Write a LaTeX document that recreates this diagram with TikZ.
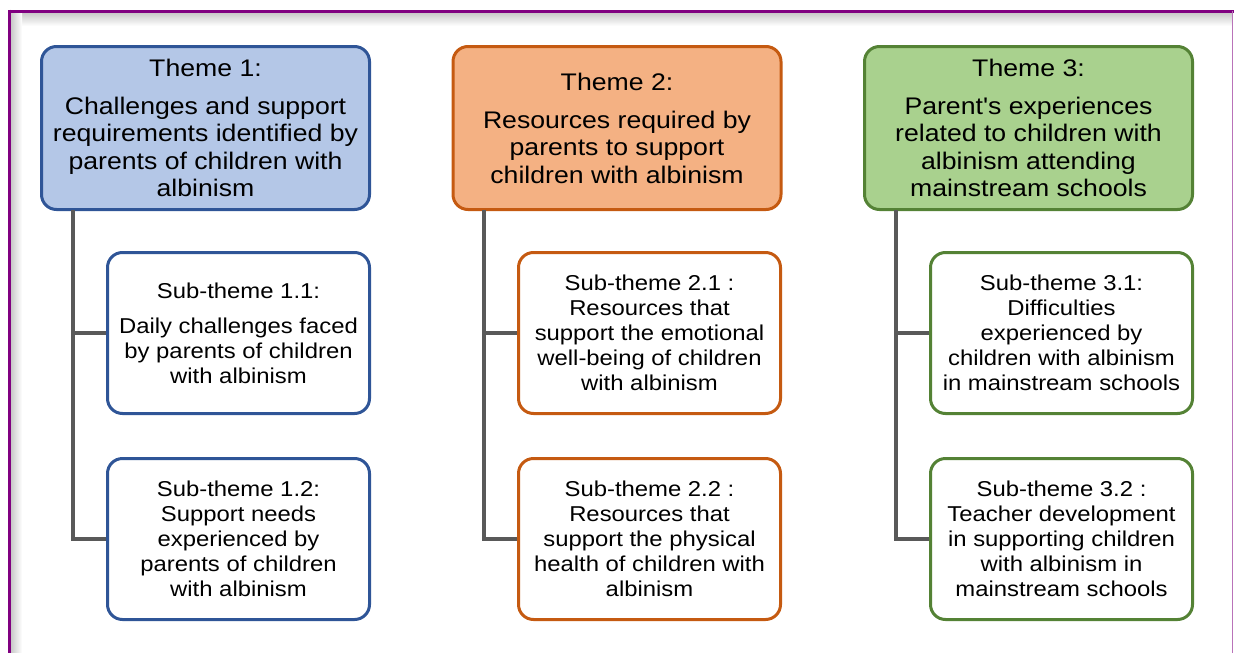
\documentclass[tikz,border=0pt]{standalone}
\usepackage{fontspec}
\setmainfont[FakeStretch=1.11]{Liberation Sans}
\definecolor{frameP}{HTML}{800080}
\definecolor{b1}{HTML}{2F5597}
\definecolor{f1}{HTML}{B4C7E7}
\definecolor{b2}{HTML}{C55A11}
\definecolor{f2}{HTML}{F4B183}
\definecolor{b3}{HTML}{548235}
\definecolor{f3}{HTML}{A9D18E}
\definecolor{connC}{HTML}{595959}
\newcommand{\straightquote}{{\addfontfeature{Ligatures=TeXOff}'}}
\tikzset{
  box/.style={rectangle, rounded corners=15pt, line width=3pt, inner sep=0pt, align=center, text=black},
  themebox/.style={box, minimum width=328pt, minimum height=163pt, font=\fontsize{24}{27.5}\selectfont},
  subbox/.style={box, fill=white, minimum width=262pt, minimum height=161pt, font=\fontsize{21.5}{25}\selectfont},
  conn/.style={draw=connC, line width=4pt}
}
\begin{document}
\begin{tikzpicture}[x=1pt,y=-1pt]
\useasboundingbox (0,0) rectangle (1234,653);
% frame with inner shadow
\shade[top color=black!22, bottom color=white] (10.5,12.5) rectangle (1232.5,26);
\shade[left color=black!22, right color=white] (10.5,12.5) rectangle (22,653);
\draw[frameP, line width=3pt] (9.5,11) -- (1233.5,11);
\draw[frameP, line width=3pt] (9.5,9.5) -- (9.5,660);
\draw[frameP!55, line width=1.2pt] (1232.6,11) -- (1232.6,660);
% themes
\node[themebox, draw=b1, fill=f1] (t1) at (205.5,128) {Theme 1:\\[10.5pt]Challenges and support\\requirements identified by\\parents of children with\\albinism};
\node[themebox, draw=b2, fill=f2] (t2) at (617,128) {Theme 2:\\[10.5pt]Resources required by\\parents to support\\children with albinism};
\node[themebox, draw=b3, fill=f3] (t3) at (1028.5,128) {Theme 3:\\[10.5pt]Parent\straightquote s experiences\\related to children with\\albinism attending\\mainstream schools};
% sub-themes
\node[subbox, draw=b1] (s11) at (238.5,333) {Sub-theme 1.1:\\[10pt]Daily challenges faced\\by parents of children\\with albinism};
\node[subbox, draw=b1] (s12) at (238.5,539) {Sub-theme 1.2:\\Support needs\\experienced by\\parents of children\\with albinism};
\node[subbox, draw=b2] (s21) at (649.5,333) {Sub-theme 2.1 :\\Resources that\\support the emotional\\well-being of children\\with albinism};
\node[subbox, draw=b2] (s22) at (649.5,539) {Sub-theme 2.2 :\\Resources that\\support the physical\\health of children with\\albinism};
\node[subbox, draw=b3] (s31) at (1061.5,333) {Sub-theme 3.1:\\Difficulties\\experienced by\\children with albinism\\in mainstream schools};
\node[subbox, draw=b3] (s32) at (1061.5,539) {Sub-theme 3.2 :\\Teacher development\\in supporting children\\with albinism in\\mainstream schools};
% connectors
\foreach \t/\a/\b in {t1/s11/s12, t2/s21/s22, t3/s31/s32}{
  \draw[conn] ([xshift=32.5pt,yshift=1.5pt]\t.south west) |- (\b.west);
  \draw[conn] ([xshift=32.5pt]\t.south west |- \a.west) -- (\a.west);
}
\end{tikzpicture}
\end{document}
